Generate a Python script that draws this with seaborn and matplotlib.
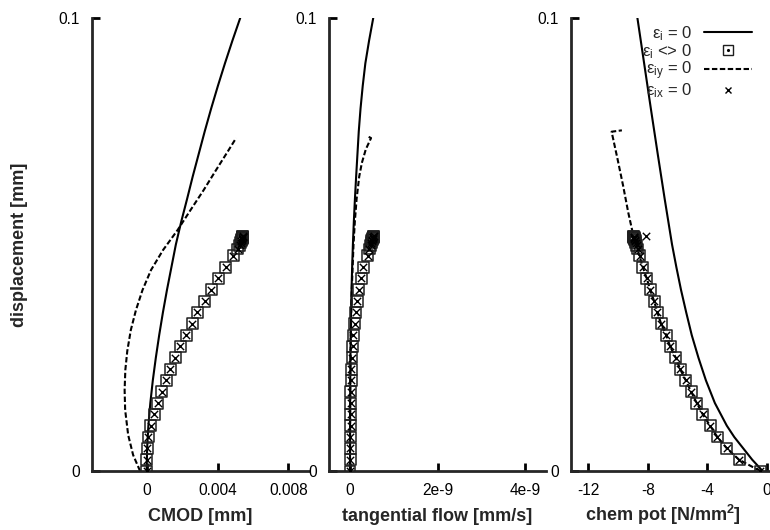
import numpy as np
import pandas as pd
import matplotlib
matplotlib.use("Agg")
import matplotlib.pyplot as plt
import seaborn as sns
from matplotlib.lines import Line2D
from matplotlib.legend_handler import HandlerTuple

# ---- data -------------------------------------------------------------
# displacement [mm] of the sampled states (markers)
disp_pts = [0.0, 0.0025, 0.005, 0.0075, 0.010, 0.0125, 0.015, 0.0175, 0.020,
            0.0225, 0.025, 0.0275, 0.030, 0.0325, 0.035, 0.0375, 0.040,
            0.0425, 0.045, 0.0475, 0.0490, 0.0498, 0.0504, 0.0508, 0.0511,
            0.0513, 0.0515, 0.0516, 0.0517, 0.0518]
# eps_i <> 0 : CMOD [mm]
cmod_pts = [0.0, 0.00001, 0.00003, 0.0001, 0.00024, 0.00043, 0.00064,
            0.00086, 0.00111, 0.00134, 0.00162, 0.0019, 0.00224, 0.00257,
            0.00285, 0.00327, 0.00366, 0.00405, 0.00446, 0.0049, 0.00515,
            0.00524, 0.0053, 0.00534, 0.00537, 0.00539, 0.0054, 0.00541,
            0.00542, 0.00543]
# eps_i <> 0 : tangential flow [1e-9 mm/s]
flow_pts_e9 = [0.0, 0.003, 0.006, 0.009, 0.012, 0.015, 0.018, 0.021, 0.025,
               0.03, 0.045, 0.06, 0.076, 0.11, 0.13, 0.165, 0.2, 0.26, 0.3,
               0.4, 0.44, 0.47, 0.49, 0.5, 0.51, 0.52, 0.525, 0.53, 0.535,
               0.54]
# eps_i <> 0 : chemical potential [N/mm2]
chem_pts = [-0.47, -1.88, -2.7, -3.33, -3.82, -4.31, -4.71, -5.09, -5.45,
            -5.83, -6.12, -6.5, -6.76, -7.1, -7.35, -7.57, -7.84, -8.06,
            -8.33, -8.55, -8.68, -8.75, -8.8, -8.84, -8.87, -8.89, -8.91,
            -8.93, -8.94, -8.95]
# eps_ix = 0 : chemical potential (last state differs)
chem_ix_pts = [-0.47, -1.88, -2.7, -3.33, -3.82, -4.31, -4.71, -5.09, -5.45,
               -5.83, -6.12, -6.5, -6.76, -7.1, -7.35, -7.57, -7.84, -8.06,
               -8.33, -8.55, -8.68, -8.75, -8.8, -8.84, -8.87, -8.89, -8.91,
               -8.93, -8.94, -8.1]

# eps_i = 0 (solid)
disp_solid = [0.0, 0.005, 0.010, 0.015, 0.020, 0.025, 0.030, 0.035, 0.040,
              0.045, 0.050, 0.055, 0.060, 0.065, 0.070, 0.075, 0.080, 0.085,
              0.090, 0.095, 0.100]
cmod_solid = [0.0, 0.00003, 0.0001, 0.00021, 0.00035, 0.00052, 0.00071,
              0.00092, 0.00115, 0.0014, 0.00165, 0.00195, 0.00228, 0.0026,
              0.00294, 0.00328, 0.00364, 0.00402, 0.00442, 0.00484, 0.00528]
flow_solid_e9 = [0.0, 0.001, 0.002, 0.004, 0.006, 0.01, 0.016, 0.024, 0.035,
                 0.049, 0.066, 0.087, 0.112, 0.14, 0.17, 0.2, 0.24, 0.29,
                 0.35, 0.435, 0.53]
disp_solid_chem = [0.0, 0.0025, 0.005, 0.0075, 0.010, 0.015, 0.020, 0.025,
                   0.030, 0.035, 0.040, 0.045, 0.050, 0.060, 0.070, 0.080,
                   0.090, 0.100]
chem_solid = [-0.3, -1.0, -1.6, -2.2, -2.7, -3.5, -4.1, -4.6, -5.05, -5.42,
              -5.77, -6.08, -6.37, -6.86, -7.33, -7.79, -8.24, -8.69]

# eps_iy = 0 (dashed)
disp_dash_cmod = [0.0, 0.00353, 0.00795, 0.01347, 0.01788, 0.0223, 0.02649,
                  0.03113, 0.03554, 0.03996, 0.04437, 0.04879, 0.0532,
                  0.05762, 0.06203, 0.06645, 0.07086, 0.07351]
cmod_dash = [-0.00037, -0.00076, -0.00104, -0.00121, -0.00124, -0.0012,
             -0.00109, -0.00089, -0.0006, -0.00023, 0.00025, 0.00093,
             0.00175, 0.00248, 0.00322, 0.00392, 0.00463, 0.00505]
disp_dash_flow = [0.0, 0.01, 0.02, 0.03, 0.04, 0.05, 0.055, 0.06, 0.065,
                  0.068, 0.071, 0.0735, 0.0738]
flow_dash_e9 = [0.0, 0.002, 0.007, 0.018, 0.04, 0.08, 0.11, 0.15, 0.21,
                0.27, 0.36, 0.48, 0.42]
disp_dash_chem = disp_pts + [0.057, 0.063, 0.069, 0.0749, 0.0752]
chem_dash = chem_pts + [-9.3, -9.65, -10.03, -10.42, -9.73]

# ---- styling ----------------------------------------------------------
sns.set_style("ticks")
plt.rcParams["font.family"] = ["Liberation Sans", "DejaVu Sans"]
plt.rcParams["mathtext.fontset"] = "custom"
plt.rcParams["mathtext.rm"] = "Liberation Sans"
plt.rcParams["mathtext.bf"] = "Liberation Sans:bold"
plt.rcParams["mathtext.default"] = "regular"

W, H = 770, 530
fig = plt.figure(figsize=(W / 100, H / 100), dpi=100)

def add_panel(left_px, width_px=217):
    return fig.add_axes([left_px / W, (H - 471) / H, width_px / W, 453 / H])

ax1 = add_panel(92)
ax2 = add_panel(329)
ax3 = add_panel(571)

LW = 1.5
DASH = (0, (2.6, 1.2))

def draw(ax, xm, xix, ym, xsol, ysol, xd, yd):
    sns.lineplot(x=xsol, y=ysol, sort=False, estimator=None, color="black",
                 lw=LW, ax=ax)
    sns.lineplot(x=xd, y=yd, sort=False, estimator=None, color="black",
                 lw=LW, linestyle=DASH, ax=ax)
    sns.scatterplot(x=xm, y=ym, marker="s", s=62, facecolor="none",
                    edgecolor="#1e1e1e", linewidth=1.1, ax=ax, zorder=3)
    sns.scatterplot(x=xix, y=ym, marker="x", s=28, color="black",
                    linewidth=1.0, ax=ax, zorder=4)

flow_pts = [v * 1e-9 for v in flow_pts_e9]
flow_solid = [v * 1e-9 for v in flow_solid_e9]
flow_dash = [v * 1e-9 for v in flow_dash_e9]

draw(ax1, cmod_pts, cmod_pts, disp_pts,
     cmod_solid, disp_solid, cmod_dash, disp_dash_cmod)
draw(ax2, flow_pts, flow_pts, disp_pts,
     flow_solid, disp_solid, flow_dash, disp_dash_flow)
draw(ax3, chem_pts, chem_ix_pts, disp_pts,
     chem_solid, disp_solid_chem, chem_dash, disp_dash_chem)

ax1.set_xlim(-0.00308, 0.00916)
ax2.set_xlim(-0.479e-9, 4.47e-9)
ax3.set_xlim(-13.14, 1.40)

ax1.set_xticks([0, 0.004, 0.008], ["0", "0.004", "0.008"])
ax2.set_xticks([0, 2e-9, 4e-9], ["0", "2e-9", "4e-9"])
ax3.set_xticks([-12, -8, -4, 0], ["-12", "-8", "-4", "0"])

for ax in (ax1, ax2, ax3):
    ax.set_ylim(0, 0.1)
    ax.set_yticks([0, 0.1], ["0", "0.1"])
    for side in ("top", "right"):
        ax.spines[side].set_visible(False)
    for side in ("left", "bottom"):
        ax.spines[side].set_linewidth(2.0)
    ax.tick_params(direction="in", length=5.5, width=2.0, pad=8.5,
                   labelsize=11.2, colors="black")
    ax.set_ylabel("")
    ax.set_facecolor("none")

lab = dict(fontsize=13, fontweight="bold")
ax1.set_xlabel("CMOD [mm]", **lab)
ax2.set_xlabel("tangential flow [mm/s]", **lab)
ax3.set_xlabel(r"chem pot [N/mm$^{\mathbf{2}}$]", **lab)
ax1.xaxis.set_label_coords(0.5, -0.081)
ax2.xaxis.set_label_coords(0.5, -0.081)
ax3.xaxis.set_label_coords((663 - 571) / 217, -0.071)
ax1.set_ylabel("displacement [mm]", fontsize=13, fontweight="bold",
               labelpad=22)

# legend
h_solid = Line2D([], [], color="black", lw=LW)
h_sq = Line2D([], [], marker="s", ls="none", ms=7.5, mfc="none",
              mec="#1e1e1e", mew=1.0)
h_dot = Line2D([], [], marker=".", ls="none", ms=2.5, color="black")
h_dash = Line2D([], [], color="black", lw=LW, linestyle=DASH)
h_x = Line2D([], [], marker="x", ls="none", ms=5, color="black", mew=1.0)
labels = ["ε$_{i}$ = 0", "ε$_{i}$ <> 0", "ε$_{iy}$ = 0", "ε$_{ix}$ = 0"]
leg = ax3.legend([h_solid, (h_sq, h_dot), h_dash, h_x], labels,
                 handler_map={tuple: HandlerTuple(ndivide=1, pad=0)},
                 loc="upper right", bbox_to_anchor=(752 / W, 1 - 24 / H),
                 bbox_transform=fig.transFigure, frameon=False,
                 markerfirst=False, handlelength=2.9, handletextpad=0.7,
                 labelspacing=-0.05, borderpad=0, borderaxespad=0,
                 fontsize=12)

fig.savefig("out.png", dpi=100)
